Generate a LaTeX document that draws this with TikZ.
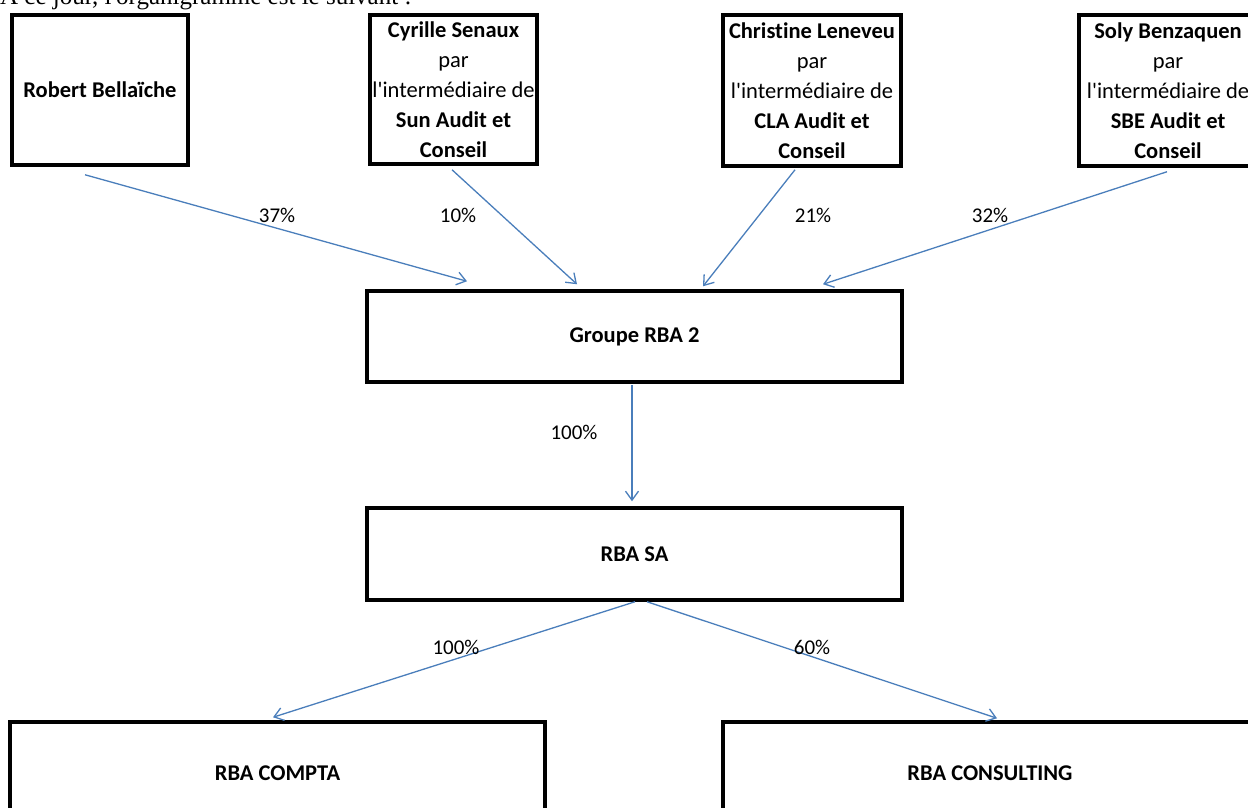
\documentclass[tikz,border=0pt]{standalone}
\usepackage{fontspec}
\setmainfont{Carlito}[Ligatures={TeX,NoCommon}]
\newfontfamily\serifhead{Liberation Serif}
\usetikzlibrary{arrows.meta,calc}
\definecolor{linkblue}{HTML}{4A7EBB}
\begin{document}
\begin{tikzpicture}[x=1pt,y=-1pt,
  box/.style={draw, line width=3.5pt, inner sep=0pt, align=center, font=\fontsize{22.5}{30}\selectfont},
  link/.style={draw=linkblue, line width=1.3pt, -{Straight Barb[length=9pt,width=13pt,line width=1.3pt]}},
  pct/.style={inner sep=0pt, font=\fontsize{21}{24}\selectfont}]
\useasboundingbox (0,0) rectangle (1248,807);
\clip (0,0) rectangle (1248,807);

\node[anchor=base west, inner sep=0pt, font=\serifhead\fontsize{25}{28}\selectfont] (title) at (0,4) {A ce jour, l\textquotesingle organigramme est le suivant :};

\node[box, minimum width=176pt, minimum height=150pt] (robert) at (100,90) {\textbf{Robert Bellaïche}};
\node[box, minimum width=167pt, minimum height=149pt] (cyrille) at (453.5,89.5)
  {\textbf{Cyrille Senaux}\\par\\l\textquotesingle intermédiaire de\\\textbf{Sun Audit et}\\\textbf{Conseil}};
\node[box, minimum width=178pt, minimum height=151pt] (christine) at (812,90.5)
  {\textbf{Christine Leneveu}\\par\\l\textquotesingle intermédiaire de\\\textbf{CLA Audit et}\\\textbf{Conseil}};
\node[box, minimum width=178pt, minimum height=151pt] (soly) at (1168,90.5)
  {\textbf{Soly Benzaquen}\\par\\l\textquotesingle intermédiaire de\\\textbf{SBE Audit et}\\\textbf{Conseil}};

\node[box, minimum width=535pt, minimum height=91pt] (groupe) at (634.5,336.5) {\textbf{Groupe RBA 2}};
\node[box, minimum width=535pt, minimum height=92pt] (rbasa) at (634.5,554) {\textbf{RBA SA}};
\node[box, minimum width=535pt, minimum height=102pt] (compta) at (277.5,773) {\textbf{RBA COMPTA}};
\node[box, minimum width=534pt, minimum height=102pt] (consulting) at (990,773) {\textbf{RBA CONSULTING}};

\draw[link] ([shift={(-15,8)}]robert.south) -- ([shift={(-167.5,-8)}]groupe.north);
\draw[link] ([shift={(-1.5,4)}]cyrille.south) -- ([shift={(-57.5,-5)}]groupe.north);
\draw[link] ([shift={(-17,2)}]christine.south) -- ([shift={(68.5,-3)}]groupe.north);
\draw[link] ([shift={(-1,4)}]soly.south) -- ([shift={(188.5,-5)}]groupe.north);
\draw[link] ([shift={(-2.5,1)}]groupe.south) -- ([shift={(-2.5,-5)}]rbasa.north);
\draw[link] ([shift={(0.5,0)}]rbasa.south) -- ([shift={(-4.5,-3)}]compta.north);
\draw[link] ([shift={(12.5,0)}]rbasa.south) -- ([shift={(7,-2)}]consulting.north);

\node[pct] (p1) at (277,215) {37\%};
\node[pct] (p2) at (458,215) {10\%};
\node[pct] (p3) at (813,215) {21\%};
\node[pct] (p4) at (990,215) {32\%};
\node[pct] (p5) at (574,432) {100\%};
\node[pct] (p6) at (456,647) {100\%};
\node[pct] (p7) at (812,647) {60\%};
\end{tikzpicture}
\end{document}
